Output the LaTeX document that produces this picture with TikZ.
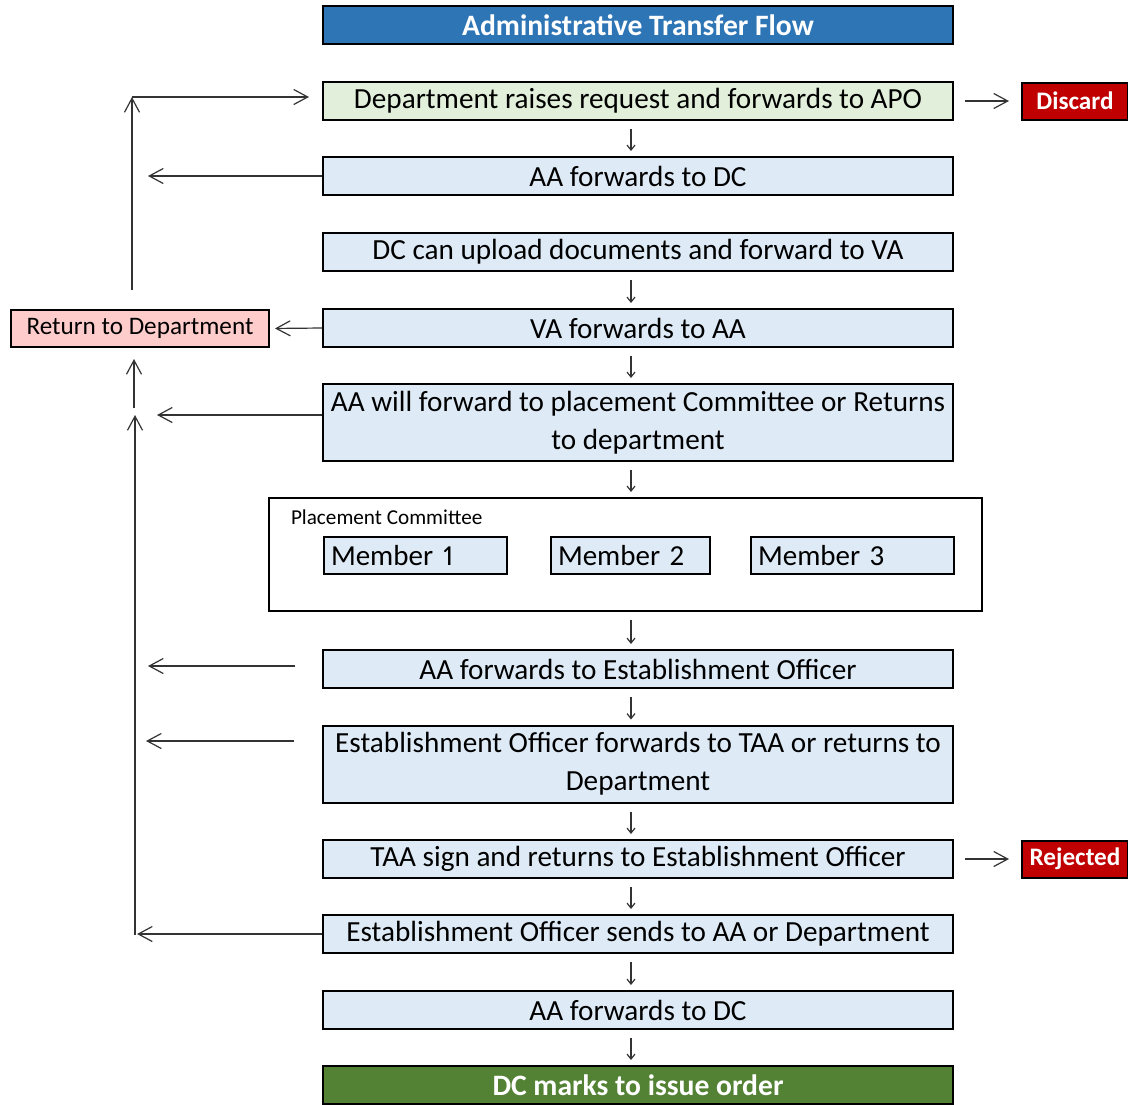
\documentclass[tikz,border=0pt]{standalone}
\usepackage{fontspec}
\setmainfont{Carlito}[Numbers=Proportional]
\usetikzlibrary{arrows.meta}
\definecolor{titleblue}{HTML}{2E75B6}
\definecolor{stepblue}{HTML}{DEEBF7}
\definecolor{startgreen}{HTML}{E2EFDA}
\definecolor{endgreen}{HTML}{548235}
\definecolor{stopred}{HTML}{C00000}
\definecolor{retpink}{HTML}{FFCCCC}

\begin{document}
\begin{tikzpicture}
  [x=0.5pt,y=-0.5pt,every node/.style={draw,line width=1pt,inner sep=0pt,font=\fontsize{14.6}{19}\selectfont}]
  \tikzstyle{stage} = [fill=stepblue,minimum width=315pt,minimum height=19pt,align=center]
  \tikzstyle{tall} = [minimum height=38.5pt]
  \tikzstyle{flag} = [fill=stopred,text=white,font=\fontsize{12.6}{14}\selectfont\bfseries,minimum width=53pt,minimum height=18.5pt]
  \tikzstyle{member} = [fill=stepblue,minimum height=18.5pt,font=\fontsize{14.5}{16}\selectfont,align=left,anchor=west,inner xsep=3.5pt]
  \tikzstyle{flow} = [-{Straight Barb[length=7pt,width=7.5pt]},line width=0.6pt,draw=black!80]
  \tikzstyle{down} = [-{Straight Barb[length=2.5pt,width=4pt]},line width=0.6pt,draw=black!80,shorten <=4pt,shorten >=2.5pt]
  \useasboundingbox (0,0) rectangle (1128,1104);

  \node[stage,fill=titleblue,text=white,font=\fontsize{14.8}{16}\selectfont\bfseries] (title) at (638,25) {Administrative Transfer Flow};
  \node[stage,fill=startgreen] (raise) at (638,101) {Department raises request and forwards to APO};
  \node[stage] (aadc) at (638,176) {AA forwards to DC};
  \node[stage] (dcup) at (638,252) {DC can upload documents and forward to VA};
  \node[stage] (vaaa) at (638,328) {VA forwards to AA};
  \node[stage,tall] (aapc) at (638,422.5) {AA will forward to placement Committee or Returns\\to department};
  \node[fill=white,minimum width=356.5pt,minimum height=56.5pt] (pc) at (625.5,554.5) {};
  \node[draw=none,anchor=west,font=\fontsize{10.6}{12}\selectfont] (pclabel) at (290,517) {Placement Committee};
  \node[member,text width=84.5pt] (m1) at (323,555.5) {Member 1};
  \node[member,text width=72.5pt] (m2) at (550,555.5) {Member 2};
  \node[member,text width=94.5pt] (m3) at (750,555.5) {Member 3};
  \node[stage] (aaeo) at (638,669) {AA forwards to Establishment Officer};
  \node[stage,tall] (eotaa) at (638,764) {Establishment Officer forwards to TAA or returns to\\Department};
  \node[stage] (taa) at (638,859) {TAA sign and returns to Establishment Officer};
  \node[stage] (eosend) at (638,934) {Establishment Officer sends to AA or Department};
  \node[stage] (aadc2) at (638,1010) {AA forwards to DC};
  \node[stage,fill=endgreen,text=white,font=\fontsize{14.8}{16}\selectfont\bfseries] (issue) at (638,1085) {DC marks to issue order};
  \node[flag] (discard) at (1075,101) {Discard};
  \node[flag] (rejected) at (1075,859) {Rejected};
  \node[fill=retpink,minimum width=129pt,minimum height=18.5pt,font=\fontsize{12.6}{14}\selectfont] (ret) at (140,328.5) {Return to Department};

  \coordinate (axis) at (631,0);
  \coordinate (upfoot) at (132,290);
  \coordinate (upleft) at (132,97);
  \coordinate (aadcend) at (148,176);
  \coordinate (aapcend) at (157,415);
  \coordinate (hubA) at (134,408);
  \coordinate (hubB) at (135,935);
  \coordinate (hubtop) at (135,415);
  \coordinate (aaeoend) at (148,666);
  \coordinate (eotaaend) at (146,741);
  \coordinate (eoend) at (137,934);

  \foreach \from/\to in {raise/aadc,dcup/vaaa,vaaa/aapc,aapc/pc,pc/aaeo,aaeo/eotaa,eotaa/taa,taa/eosend,eosend/aadc2,aadc2/issue}
    \draw[down] (\from.south -| axis) -- (\to.north -| axis);

  \draw[flow] (upfoot) -- (upleft);
  \draw[flow,shorten >=6.5pt] (upleft) -- (upleft -| raise.west);
  \draw[flow] (aadc.west) -- (aadcend);
  \draw[flow,shorten >=2.5pt] (vaaa.west) -- (ret.east);
  \draw[flow] (aapcend -| aapc.west) -- (aapcend);
  \draw[flow,shorten >=5.5pt] (hubA) -- (ret.south -| hubA);
  \draw[flow] (hubB) -- (hubtop);
  \draw[flow] (eosend.west) -- (eoend);
  \draw[flow,shorten <=13.5pt] (aaeoend -| aaeo.west) -- (aaeoend);
  \draw[flow,shorten <=14pt] (eotaaend -| eotaa.west) -- (eotaaend);
  \draw[flow,shorten <=5.5pt,shorten >=6pt] (raise.east) -- (discard.west);
  \draw[flow,shorten <=5.5pt,shorten >=6pt] (taa.east) -- (rejected.west);

\end{tikzpicture}
\end{document}
